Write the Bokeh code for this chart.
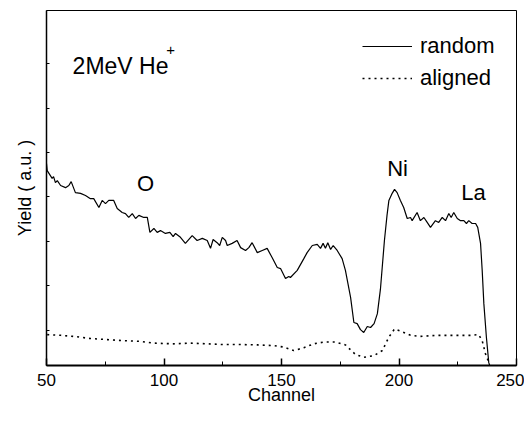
from bokeh.plotting import figure
from bokeh.models import Range1d, FixedTicker, Label, Legend, LegendItem, CustomJSTickFormatter
from bokeh.embed import file_html
from bokeh.resources import INLINE

# Random spectrum (channel, yield a.u.)
random_channel = [50.0, 50.3, 52.4, 53.0, 53.8, 54.6, 56.0, 58.1, 59.5, 60.5, 62.3, 64.5, 66.6, 68.7, 70.1,
                  72.3, 73.7, 75.1, 76.5, 78.6, 80.1, 82.2, 83.6, 85.0, 86.5, 87.9, 89.3, 91.4, 92.9, 94.0,
                  95.7, 97.1, 98.5, 100.6, 102.5, 103.9, 104.9, 107.0, 109.1, 112.0, 114.1, 116.3, 118.4,
                  119.8, 120.9, 122.6, 123.7, 124.8, 126.2, 126.9, 129.0, 131.1, 132.6, 134.7, 136.1, 137.5,
                  139.7, 141.8, 143.9, 146.0, 148.2, 149.6, 151.7, 153.1, 153.8, 156.7, 159.5, 160.9, 163.1,
                  165.2, 166.6, 167.7, 168.7, 169.7, 170.9, 172.0, 173.7, 175.8, 177.2, 179.4, 180.8, 182.2,
                  183.6, 185.0, 186.5, 187.9, 189.4, 190.8, 192.1, 193.8, 194.9, 195.7, 197.1, 198.1, 199.2,
                  200.6, 202.0, 203.5, 204.9, 205.6, 207.7, 209.1, 210.6, 212.0, 213.4, 215.5, 216.9, 218.4,
                  219.8, 221.2, 222.2, 223.3, 224.8, 226.2, 227.6, 228.7, 229.7, 231.1, 232.6, 233.5, 234.7,
                  235.4, 236.1, 237.2, 238.2, 238.6]
random_yield = [56.9, 54.9, 52.7, 53.2, 51.5, 52.1, 50.7, 50.1, 50.7, 51.8, 48.7, 48.5, 47.9, 47.0, 47.0,
                44.5, 46.5, 45.6, 46.5, 46.5, 44.2, 43.1, 42.8, 41.7, 42.8, 41.4, 42.3, 41.7, 41.7, 37.5,
                38.6, 37.5, 38.0, 37.2, 37.5, 36.3, 37.2, 36.1, 34.4, 36.6, 35.2, 35.8, 35.2,
                33.0, 35.5, 34.6, 33.8, 36.1, 35.2, 33.8, 34.4, 35.2, 33.2, 32.4, 33.2, 34.6,
                31.8, 32.4, 33.0, 30.4, 27.6, 27.3, 24.5, 25.1, 24.8, 26.8, 30.1, 31.8, 33.8,
                34.1, 33.0, 34.4, 33.0, 34.6, 32.7, 33.8, 32.4, 30.1, 26.8, 19.2, 12.1, 11.8,
                10.1, 9.3, 11.0, 10.7, 11.8, 14.6, 21.5, 35.2, 42.3, 46.5, 48.5, 49.6, 48.7,
                46.5, 44.5, 41.4, 41.7, 40.8, 43.1, 40.8, 41.7, 40.3, 38.9, 40.8, 40.3, 41.7,
                40.8, 42.8, 41.7, 43.1, 41.4, 40.8, 40.8, 40.0, 40.8, 40.0, 40.0, 38.9, 34.4,
                26.8, 17.5, 7.9, 0.8, 0.0]

# Aligned spectrum (channel, yield a.u.)
aligned_channel = [50.3, 56.0, 61.6, 68.7, 75.8, 82.9, 90.0, 95.7, 104.2, 111.3, 118.4, 125.4, 132.6,
                   139.7, 146.7, 151.0, 155.2, 159.5, 163.7, 168.0, 173.0, 177.2, 179.4, 181.5, 185.0,
                   189.4, 192.9, 195.7, 198.1, 200.6, 204.9, 209.1, 216.3, 223.3, 230.4, 233.9, 235.4,
                   236.8, 238.2]
aligned_yield = [8.7, 8.5, 8.2, 7.6, 7.3, 7.0, 6.8, 6.3, 6.1, 6.3, 6.1, 5.9, 5.9,
                 5.8, 5.6, 5.2, 4.2, 5.0, 6.1, 6.6, 6.6, 5.8, 4.4, 3.1, 2.3,
                 2.8, 4.2, 8.0, 10.3, 9.7, 8.5, 8.2, 8.5, 8.5, 8.5, 8.7, 7.0,
                 3.3, 0.9]

x_ticks = [50, 100, 150, 200, 250]
x_minor_ticks = [75, 125, 175, 225]
y_ticks = [10, 22.5, 35, 47.5, 60, 72.5, 85]

FONT = "Liberation Sans"

p = figure(width=524, height=415, output_backend="svg", toolbar_location=None,
           x_range=Range1d(50, 250), y_range=Range1d(0, 100),
           min_border_left=46, min_border_right=8, min_border_top=10, min_border_bottom=50)
p.background_fill_color = "white"
p.border_fill_color = "white"
p.outline_line_color = "black"
p.outline_line_width = 1
p.grid.visible = False

# x axis
p.xaxis.ticker = FixedTicker(ticks=x_ticks, minor_ticks=x_minor_ticks)
p.xaxis.axis_label = "Channel"
p.xaxis.axis_label_text_font = FONT
p.xaxis.axis_label_text_font_size = "18px"
p.xaxis.axis_label_text_font_style = "normal"
p.xaxis.axis_label_text_color = "black"
p.xaxis.axis_label_standoff = -4
p.xaxis.major_label_text_font = FONT
p.xaxis.major_label_text_font_size = "17px"
p.xaxis.major_label_text_color = "black"
p.xaxis.major_label_standoff = 8
p.xaxis.major_tick_in = 7
p.xaxis.major_tick_out = 0
p.xaxis.minor_tick_in = 4
p.xaxis.minor_tick_out = 0
p.xaxis.axis_line_width = 2
p.xaxis.axis_line_color = "black"
p.xaxis.major_tick_line_width = 1.5
p.xaxis.major_tick_line_color = "black"
p.xaxis.minor_tick_line_color = "black"

# y axis (ticks only, no numbers)
p.yaxis.ticker = FixedTicker(ticks=y_ticks, minor_ticks=[])
p.yaxis.formatter = CustomJSTickFormatter(code="return '';")
p.yaxis.axis_label = "Yield ( a.u. )"
p.yaxis.axis_label_text_font = FONT
p.yaxis.axis_label_text_font_size = "18px"
p.yaxis.axis_label_text_font_style = "normal"
p.yaxis.axis_label_text_color = "black"
p.yaxis.axis_label_standoff = 12
p.yaxis.major_label_standoff = 0
p.yaxis.major_tick_in = 3
p.yaxis.major_tick_out = 0
p.yaxis.minor_tick_in = 0
p.yaxis.minor_tick_out = 0
p.yaxis.axis_line_width = 1.5
p.yaxis.axis_line_color = "black"
p.yaxis.major_tick_line_color = "black"

r1 = p.line(random_channel, random_yield, line_color="black", line_width=1.2)
r2 = p.line(aligned_channel, aligned_yield, line_color="black", line_width=1.6, line_dash="2 4")

legend = Legend(items=[LegendItem(label="random", renderers=[r1]),
                       LegendItem(label="aligned", renderers=[r2])],
                location=(316, 274), orientation="vertical",
                label_text_font=FONT, label_text_font_size="22px", label_text_color="black",
                glyph_width=50, glyph_height=26, label_height=26, label_standoff=8,
                spacing=6, padding=0, margin=0,
                border_line_color=None, background_fill_alpha=0)
p.add_layout(legend)

def add_label(x, y, text, size="22px", align="left", baseline="alphabetic"):
    p.add_layout(Label(x=x, y=y, text=text, text_font=FONT, text_font_size=size,
                       text_align=align, text_baseline=baseline, text_color="black"))

add_label(61.1, 84.5, "2MeV He", size="23px")
add_label(101.0, 89.0, "+", size="15px")
add_label(92.1, 51.3, "O", align="center", baseline="middle")
add_label(199.4, 55.5, "Ni", align="center", baseline="middle")
add_label(231.7, 48.7, "La", align="center", baseline="middle")

open("out.html", "w").write(file_html(p, INLINE))
